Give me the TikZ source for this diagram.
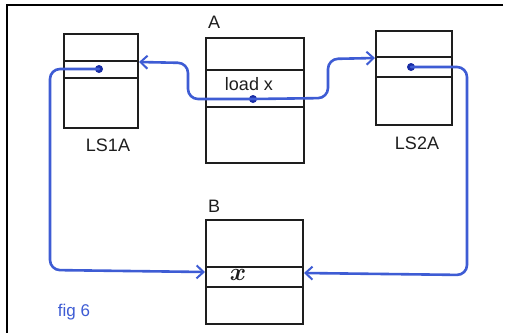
\documentclass[tikz,border=0pt]{standalone}
\usepackage{fontspec}
\setmainfont{Liberation Sans}
\usetikzlibrary{arrows.meta}
\definecolor{pen}{RGB}{30,30,30}
\definecolor{link}{RGB}{62,92,212}
\definecolor{dotc}{RGB}{25,45,165}
\begin{document}
\begin{tikzpicture}[x=1pt,y=-1pt,
  frame/.style={line width=1.5pt,black},
  mem/.style={draw=pen,line width=2pt,rectangle,inner sep=0pt},
  row/.style={draw=pen,line width=2pt},
  linkline/.style={draw=link,line width=2.6pt,rounded corners=10pt,line cap=round,line join=round},
  tip/.style={-{Straight Barb[length=7pt,width=13pt,line width=2pt]}},
  ptr/.style={circle,fill=dotc,inner sep=0pt,minimum size=8pt},
  lbl/.style={font=\fontsize{18}{18}\selectfont,text=pen,inner sep=0pt}]
\useasboundingbox (0,0) rectangle (505,333);
\fill[white] (0,0) rectangle (505,333);
% page frame
\draw[frame] (503,5) -- (7,5) -- (7,333);

% memory segments
\node[mem,minimum width=74pt,minimum height=94pt] (ls1) at (101,81) {};
\node[mem,minimum width=98pt,minimum height=125pt] (a) at (255,100.5) {};
\node[mem,minimum width=76pt,minimum height=94pt] (ls2) at (414,78) {};
\node[mem,minimum width=97pt,minimum height=104pt] (b) at (254.5,272) {};

% row dividers
\draw[row] (ls1.west |- 0,61) -- (ls1.east |- 0,61);
\draw[row] (ls1.west |- 0,78) -- (ls1.east |- 0,78);
\draw[row] (a.west |- 0,70) -- (a.east |- 0,70);
\draw[row] (a.west |- 0,107) -- (a.east |- 0,107);
\draw[row] (ls2.west |- 0,57) -- (ls2.east |- 0,57);
\draw[row] (ls2.west |- 0,77) -- (ls2.east |- 0,77);
\draw[row] (b.west |- 0,267) -- (b.east |- 0,267);
\draw[row] (b.west |- 0,287) -- (b.east |- 0,287);

% labels
\node[lbl] (la) at (214,22) {A};
\node[lbl] (lb) at (214,206) {B};
\node[lbl] (l1) at (108,145) {LS1A};
\node[lbl] (l2) at (417,143) {LS2A};
\node[lbl] (ld) at (249,84) {load x};
\node[lbl,font=\fontsize{24}{24}\selectfont\boldmath] (bx) at (238,275) {$x$};
\node[lbl,text=link,font=\fontsize{17}{17}\selectfont] (fig) at (74,312) {fig 6};

% pointer cells
\node[ptr] (pa) at (253,99) {};
\node[ptr] (p1) at (99,69) {};
\node[ptr] (p2) at (411,67) {};

% links
\draw[linkline,tip] (pa.center) -- (188,99) -- (188,63) -- (ls1.east |- 0,62);
\draw[linkline,tip] (pa.center) -- (328,98) -- (328,59) -- (ls2.west |- 0,58);
\draw[linkline,tip] (p1.center) -- (50,69) -- (50,270) -- (b.west |- 0,272);
\draw[linkline,tip] (p2.center) -- (467,67) -- (467,275) -- (b.east |- 0,273);
\end{tikzpicture}
\end{document}
